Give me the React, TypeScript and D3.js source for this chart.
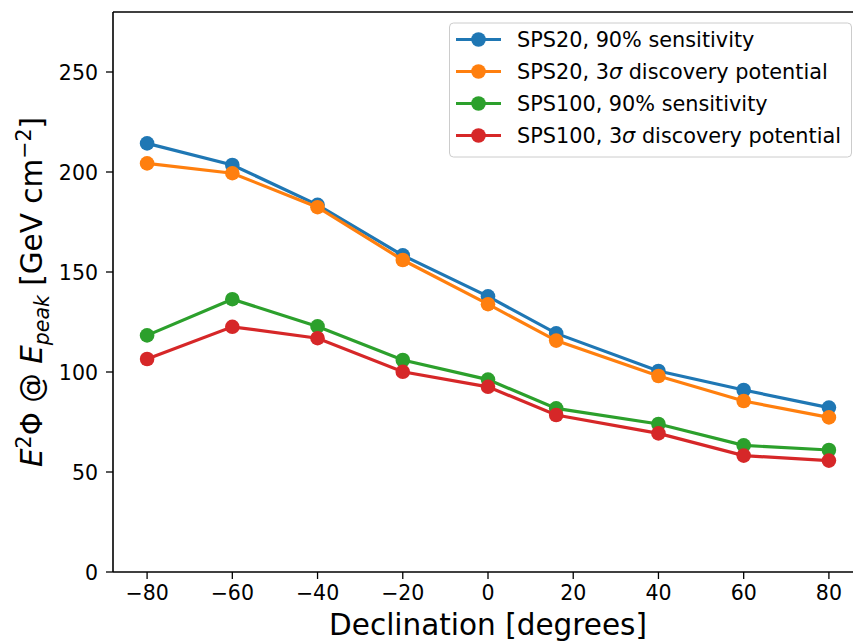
import React from "react";
import * as d3 from "d3";

const declinations = [-80, -60, -40, -20, 0, 16, 40, 60, 80];
const sps20Sens = [214.3, 203.5, 183.6, 158.3, 137.8, 119.3, 100.5, 91, 82.2];
const sps20Disc = [204.3, 199.4, 182.4, 156, 133.9, 115.7, 98, 85.5, 77.3];
const sps100Sens = [118.3, 136.4, 122.8, 106, 96.2, 81.8, 74, 63.3, 61];
const sps100Disc = [106.5, 122.6, 116.9, 100.1, 92.6, 78.5, 69.3, 58.2, 55.7];
const seriesNames = [
  "SPS20, 90% sensitivity",
  "SPS20, 3σ discovery potential",
  "SPS100, 90% sensitivity",
  "SPS100, 3σ discovery potential",
];
const seriesColors = ["#1f77b4", "#ff7f0e", "#2ca02c", "#d62728"];
const xTicks = [-80, -60, -40, -20, 0, 20, 40, 60, 80];
const yTicks = [0, 50, 100, 150, 200, 250];

const W = 853;
const H = 641;
const left = 113;
const right = 863;
const top = 12;
const bottom = 572;

export default function App() {
  const x = d3.scaleLinear().domain([-88, 88]).range([left, right]);
  const y = d3.scaleLinear().domain([0, 280]).range([bottom, top]);
  const allSeries = [sps20Sens, sps20Disc, sps100Sens, sps100Disc];
  const line = d3
    .line<number>()
    .x((_, i) => x(declinations[i]))
    .y((d) => y(d));
  const fmt = (v: number) => (v < 0 ? "\u2212" + Math.abs(v) : String(v));
  const font = "DejaVu Sans, sans-serif";
  const tickFs = 20.5;
  const legendFs = 20.8;
  const labelFs = 29.5;

  return (
    <svg
      width={W}
      height={H}
      style={{ position: "absolute", left: 0, top: 0, background: "#fff" }}
      fontFamily={font}
    >
      <rect x={0} y={0} width={W} height={H} fill="#fff" />
      {allSeries.map((s, k) => (
        <g key={k}>
          <path d={line(s) || ""} fill="none" stroke={seriesColors[k]} strokeWidth={3.2} />
          {s.map((v, i) => (
            <circle key={i} cx={x(declinations[i])} cy={y(v)} r={7.3} fill={seriesColors[k]} />
          ))}
        </g>
      ))}
      {/* spines */}
      <line x1={left} y1={top} x2={left} y2={bottom} stroke="#000" strokeWidth={1.6} />
      <line x1={left} y1={bottom} x2={right} y2={bottom} stroke="#000" strokeWidth={1.6} />
      <line x1={left} y1={top} x2={right} y2={top} stroke="#000" strokeWidth={1.6} />
      <line x1={right} y1={top} x2={right} y2={bottom} stroke="#000" strokeWidth={1.6} />
      {/* x ticks */}
      {xTicks.map((t) => (
        <g key={t}>
          <line x1={x(t)} x2={x(t)} y1={bottom} y2={bottom + 7} stroke="#000" strokeWidth={1.3} />
          <text x={x(t)} y={bottom + 28} fontSize={tickFs} textAnchor="middle" fill="#000">
            {fmt(t)}
          </text>
        </g>
      ))}
      {/* y ticks */}
      {yTicks.map((t) => (
        <g key={t}>
          <line x1={left - 7} x2={left} y1={y(t)} y2={y(t)} stroke="#000" strokeWidth={1.3} />
          <text x={left - 15} y={y(t) + 7.5} fontSize={tickFs} textAnchor="end" fill="#000">
            {t}
          </text>
        </g>
      ))}
      {/* x label */}
      <text x={488} y={635} fontSize={labelFs} textAnchor="middle" fill="#000">
        Declination [degrees]
      </text>
      {/* y label */}
      <text
        transform={`translate(42, ${(top + bottom) / 2}) rotate(-90)`}
        fontSize={labelFs}
        textAnchor="middle"
        fill="#000"
      >
        <tspan fontStyle="italic">E</tspan>
        <tspan dy={-11} fontSize={20.5}>2</tspan>
        <tspan dy={11}>Φ @ </tspan>
        <tspan fontStyle="italic">E</tspan>
        <tspan dy={7} fontSize={20.5} fontStyle="italic">peak</tspan>
        <tspan dy={-7}> [GeV cm</tspan>
        <tspan dy={-11} fontSize={20.5}>−2</tspan>
        <tspan dy={11}>]</tspan>
      </text>
      {/* legend */}
      <rect x={449.5} y={23} width={402} height={134} rx={4} fill="#fff" fillOpacity={0.8} stroke="#ccc" strokeWidth={1} />
      {seriesNames.map((n, k) => {
        const ly = 39.5 + k * 32;
        return (
          <g key={k}>
            <line x1={456} x2={501} y1={ly} y2={ly} stroke={seriesColors[k]} strokeWidth={3.2} />
            <circle cx={478.5} cy={ly} r={7.3} fill={seriesColors[k]} />
            <text x={517} y={ly + 7.5} fontSize={legendFs} fill="#000">
              {n.includes("σ") ? (
                <>
                  {n.split("σ")[0].slice(0, -1)}3<tspan fontStyle="italic">σ</tspan>
                  {n.split("σ")[1]}
                </>
              ) : (
                n
              )}
            </text>
          </g>
        );
      })}
    </svg>
  );
}
